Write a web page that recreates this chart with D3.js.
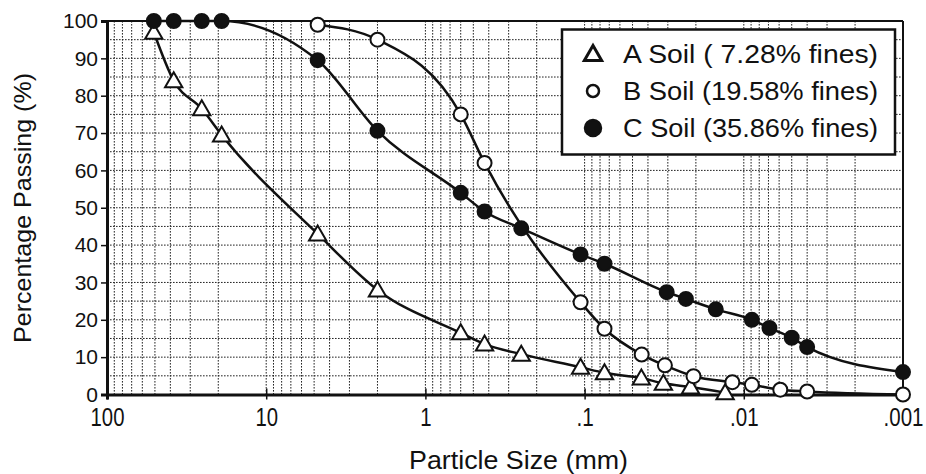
<!DOCTYPE html>
<meta charset="utf-8">
<style>
  body { margin: 0; background: #fff; }
  text { fill: #111; }
</style>
<body></body>
<script src="https://cdn.jsdelivr.net/npm/d3@7"></script>
<script>
  const width = 926
  const height = 474

  // sieve / hydrometer sizes (mm) and percent passing
  const sizesA = [50.8, 38.1, 25.4, 19.05, 4.75, 2.0, 0.6, 0.425, 0.25, 0.106, 0.075, 0.044, 0.032, 0.0216, 0.0131]
  const passA = [97, 84, 76.5, 69.5, 43, 28, 16.5, 13.5, 10.8, 7.3, 5.8, 4.4, 3, 2, 0.5]
  const sizesB = [4.75, 2.0, 0.6, 0.425, 0.106, 0.075, 0.0438, 0.0313, 0.0207, 0.0118, 0.0089, 0.0059, 0.004, 0.001]
  const passB = [99, 95, 75, 62, 24.7, 17.6, 10.7, 7.8, 4.9, 3.3, 2.6, 1.3, 0.8, 0]
  const sizesC = [50.8, 38.1, 25.4, 19.05, 4.75, 2.0, 0.6, 0.425, 0.25, 0.106, 0.075, 0.0305, 0.0231, 0.015, 0.0089, 0.0069, 0.005, 0.004, 0.001]
  const passC = [100, 100, 100, 100, 89.5, 70.6, 54, 49, 44.5, 37.5, 35, 27.4, 25.6, 22.8, 20, 17.8, 15.2, 12.7, 6]

  const legendLabels = ["A Soil ( 7.28% fines)", "B Soil (19.58% fines)", "C Soil (35.86% fines)"]
  const xTickValues = [100, 10, 1, 0.1, 0.01, 0.001]
  const xTickLabels = ["100", "10", "1", ".1", ".01", ".001"]
  const yTickValues = d3.range(0, 101, 10)

  const series = [
    { name: "A", marker: "triangle", values: sizesA.map((s, i) => ({ size: s, pass: passA[i] })) },
    { name: "B", marker: "open", values: sizesB.map((s, i) => ({ size: s, pass: passB[i] })) },
    { name: "C", marker: "filled", values: sizesC.map((s, i) => ({ size: s, pass: passC[i] })) }
  ]

  const x = d3.scaleLog().domain([100, 0.001]).range([107, 903])
  const y = d3.scaleLinear().domain([0, 100]).range([394.5, 21])

  const svg = d3.select("body")
    .append("svg")
    .attr("width", width)
    .attr("height", height)

  // width a label gets when squeezed like the scanned lettering
  const labelWidth = s => s.split("").reduce((w, c) => w + (c === "." ? 6 : 11.3), 0)

  // grid
  const grid = svg.append("g")
    .attr("stroke", "#222")
    .attr("stroke-width", 1)
    .attr("stroke-dasharray", "1.6,1.4")

  const vLines = []
  for (let e = -3; e < 2; e++) {
    for (let m = 1; m <= 9; m++) {
      const v = m * Math.pow(10, e)
      if (v > 0.001 && v < 100) vLines.push(v)
    }
  }
  grid.selectAll("line.v")
    .data(vLines)
    .enter()
    .append("line")
    .attr("x1", d => x(d))
    .attr("x2", d => x(d))
    .attr("y1", y(100))
    .attr("y2", y(0))

  grid.selectAll("line.h")
    .data(d3.range(5, 100, 5))
    .enter()
    .append("line")
    .attr("x1", x(100))
    .attr("x2", x(0.001))
    .attr("y1", d => y(d))
    .attr("y2", d => y(d))

  // frame
  svg.append("line")
    .attr("x1", x(100)).attr("x2", x(0.001))
    .attr("y1", y(100)).attr("y2", y(100))
    .attr("stroke", "#111").attr("stroke-width", 2)
  svg.append("line")
    .attr("x1", x(0.001)).attr("x2", x(0.001))
    .attr("y1", y(100)).attr("y2", y(0))
    .attr("stroke", "#111").attr("stroke-width", 2)

  // y axis
  const yAxis = d3.axisLeft(y)
    .tickValues(yTickValues)
    .tickSize(6)
    .tickPadding(3)
  const yg = svg.append("g")
    .attr("transform", `translate(${x(100)},0)`)
    .call(yAxis)
  yg.select(".domain").attr("stroke", "#111").attr("stroke-width", 3)
  yg.selectAll(".tick line").attr("stroke", "#111").attr("stroke-width", 1.5)
  yg.selectAll(".tick text")
    .attr("font-family", "Liberation Sans, Arial, sans-serif")
    .attr("font-size", 21)
    .attr("fill", "#111")

  // x axis
  const xAxis = d3.axisBottom(x)
    .tickValues(xTickValues)
    .tickFormat((d, i) => xTickLabels[i])
    .tickSize(5)
    .tickPadding(9)
  const xg = svg.append("g")
    .attr("transform", `translate(0,${y(0)})`)
    .call(xAxis)
  xg.select(".domain").attr("stroke", "#111").attr("stroke-width", 3)
  xg.selectAll(".tick line").attr("stroke", "#111").attr("stroke-width", 1.5).attr("y1", -6)
  xg.selectAll(".tick text")
    .attr("font-family", "Liberation Sans, Arial, sans-serif")
    .attr("font-size", 25)
    .attr("fill", "#111")
    .attr("textLength", (d, i) => labelWidth(xTickLabels[i]))
    .attr("lengthAdjust", "spacingAndGlyphs")

  // axis titles
  svg.append("text")
    .attr("transform", `translate(31,208) rotate(-90)`)
    .attr("text-anchor", "middle")
    .attr("font-family", "Liberation Sans, Arial, sans-serif")
    .attr("font-size", 24)
    .attr("textLength", 270)
    .attr("lengthAdjust", "spacingAndGlyphs")
    .text("Percentage Passing (%)")

  svg.append("text")
    .attr("x", 409)
    .attr("y", 469)
    .attr("font-family", "Liberation Sans, Arial, sans-serif")
    .attr("font-size", 26)
    .attr("textLength", 219)
    .attr("lengthAdjust", "spacingAndGlyphs")
    .text("Particle Size (mm)")

  // curves
  const line = d3.line()
    .x(d => x(d.size))
    .y(d => y(d.pass))
    .curve(d3.curveMonotoneX)

  svg.selectAll("path.curve")
    .data(series)
    .enter()
    .append("path")
    .attr("class", "curve")
    .attr("d", d => line(d.values))
    .attr("fill", "none")
    .attr("stroke", "#111")
    .attr("stroke-width", 2.5)

  const tri = d3.symbol().type(d3.symbolTriangle).size(130)

  function drawMarker(g, marker, cx, cy, r, sw) {
    if (marker === "triangle") {
      g.append("path")
        .attr("d", tri())
        .attr("transform", `translate(${cx},${cy + 1.5})`)
        .attr("fill", "#fff")
        .attr("stroke", "#111")
        .attr("stroke-width", sw)
    } else {
      g.append("circle")
        .attr("cx", cx)
        .attr("cy", cy)
        .attr("r", r)
        .attr("fill", marker === "filled" ? "#111" : "#fff")
        .attr("stroke", "#111")
        .attr("stroke-width", sw)
    }
  }

  series.forEach(s => {
    const g = svg.append("g")
    s.values.forEach(d => drawMarker(g, s.marker, x(d.size), y(d.pass), 7, 2))
  })

  // legend
  const legend = svg.append("g")
  legend.append("rect")
    .attr("x", 562)
    .attr("y", 29.5)
    .attr("width", 333)
    .attr("height", 125)
    .attr("fill", "#fff")
    .attr("stroke", "#111")
    .attr("stroke-width", 2.5)

  series.forEach((s, i) => {
    const cy = 54 + i * 37
    drawMarker(legend, s.marker, 593, cy, s.marker === "filled" ? 8 : 6, s.marker === "triangle" ? 3 : 2.5)
    legend.append("text")
      .attr("x", 623)
      .attr("y", cy + 9)
      .attr("font-family", "Liberation Sans, Arial, sans-serif")
      .attr("font-size", 25)
      .attr("textLength", 255)
      .attr("lengthAdjust", "spacingAndGlyphs")
      .style("white-space", "pre")
      .text(legendLabels[i])
  })
</script>
